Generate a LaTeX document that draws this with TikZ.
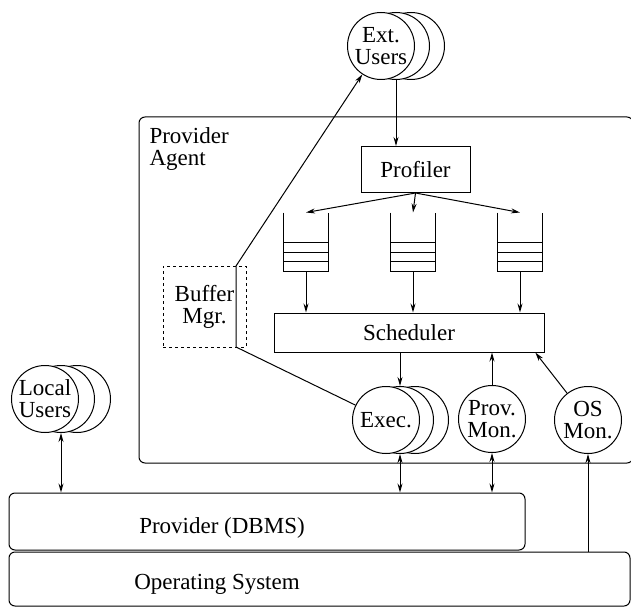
\documentclass[tikz,border=0pt]{standalone}
\usepackage{fontspec}
\setmainfont{Liberation Serif}
\newfontfamily\figfont{Liberation Serif}
\usetikzlibrary{positioning,calc,arrows.meta}

\begin{document}
\begin{tikzpicture}[
        x=1pt,
        y=-1pt,
        line width=1pt,
        >={Stealth[length=9pt,width=5pt]},
        every node/.style={font=\figfont\fontsize{23}{22}\selectfont},
        layer/.style={
            rectangle,
            rounded corners=6pt,
            draw=black,
            inner sep=0pt
        },
        block/.style={
            rectangle,
            draw=black,
            align=center,
            inner sep=0pt
        },
        usr/.style={
            circle,
            draw=black,
            fill=white,
            align=center,
            inner sep=0pt,
            minimum size=67pt
        },
        queue/.style={
            rectangle,
            inner sep=0pt,
            minimum width=44pt,
            minimum height=58pt
        },
        arrow/.style={
            ->
        }
    ]

    \clip (0,0) rectangle (631,607);

    % layers
    \node[layer, minimum width=494pt, minimum height=346pt] (agent) at (386,290) {};
    \node[layer, minimum width=516pt, minimum height=57pt] (prov) at (267,521.5) {};
    \node[layer, minimum width=621pt, minimum height=54pt] (os) at (319.5,579) {};

    \node[anchor=north west, align=left, inner sep=0pt] (agentlbl) at (149,127) {Provider\\Agent};
    \node[anchor=base] (provlbl) at (222,533) {Provider (DBMS)};
    \node[anchor=base] (oslbl) at (217,589) {Operating System};

    % agent parts
    \node[block, minimum width=109pt, minimum height=46pt] (prof) at (415.5,169.5) {Profiler};
    \node[queue] (q1) at (306,242) {};
    \node[queue, right=62pt of q1] (q2) {};
    \node[queue, right=62pt of q2] (q3) {};
    \foreach \q in {q1,q2,q3} {
        \draw (\q.north west) -- (\q.south west) -- (\q.south east) -- (\q.north east);
        \foreach \f in {0.17,0.33,0.5}
            \draw ($(\q.south west)!\f!(\q.north west)$) -- ($(\q.south east)!\f!(\q.north east)$);
    }
    \node[block, minimum width=270pt, minimum height=39pt] (sched) at (409,332.5) {Scheduler};
    \node[block, dashed, minimum width=83pt, minimum height=81pt] (buf) at (204.5,306.5) {Buffer\\Mgr.};
    \coordinate (bufT) at (236,266);
    \coordinate (bufB) at (236,347);

    % users
    \node[usr] (ext3) at (411,46) {};
    \node[usr] (ext2) at (396,46) {};
    \node[usr] (ext1) at (381,46) {Ext.\\Users};

    \node[usr] (local3) at (77,399) {};
    \node[usr] (local2) at (61,399) {};
    \node[usr] (local1) at (45,399) {Local\\Users};

    \node[usr] (exec3) at (415,420) {};
    \node[usr] (exec2) at (400,420) {};
    \node[usr] (exec1) at (386,420) {Exec.};

    \node[usr] (provmon) at (492,419) {Prov.\\Mon.};
    \node[usr] (osmon) at (588,420) {OS\\Mon.};

    % arrows
    \draw[arrow] (ext2.south) -- (ext2.south |- prof.north);
    \foreach \q in {q1,q2,q3}
        \draw[arrow] (prof.south) -- (\q.north);
    \foreach \q in {q1,q2,q3}
        \draw[arrow] (\q.south) -- (\q.south |- sched.north);
    \draw[arrow] (sched.south -| exec2.north) -- (exec2.north);
    \draw[arrow] (provmon.north) -- (provmon.north |- sched.south);
    \draw[arrow] (osmon) -- (sched.-9);
    \draw[arrow] (exec1) -- (bufB) -- (bufT) -- (ext1);
    \draw[<->] (local2.south) -- (local2.south |- prov.north);
    \draw[<->] (exec2.south) -- (exec2.south |- prov.north);
    \draw[<->] (provmon.south) -- (provmon.south |- prov.north);
    \draw[arrow] (osmon.south |- os.north) -- (osmon.south);

\end{tikzpicture}
\end{document}
